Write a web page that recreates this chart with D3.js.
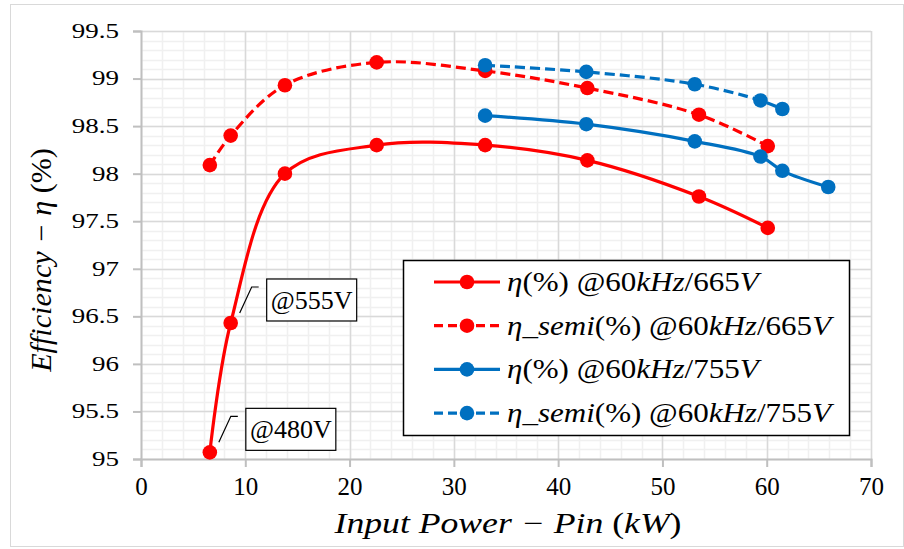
<!DOCTYPE html>
<html>
<head>
<meta charset="utf-8">
<script src="https://cdn.jsdelivr.net/npm/d3@7"></script>
<style>
  html, body { margin: 0; padding: 0; background: #fff; }
  svg { display: block; }
</style>
</head>
<body>
<svg id="chart" width="904" height="549"></svg>
<script>
// ---------- data ----------
const xTicks = [0, 10, 20, 30, 40, 50, 60, 70];
const yTicks = [95, 95.5, 96, 96.5, 97, 97.5, 98, 98.5, 99, 99.5];
const yTickLabels = ["95", "95.5", "96", "96.5", "97", "97.5", "98", "98.5", "99", "99.5"];

const pin665 = [6.6, 8.6, 13.8, 22.6, 33.0, 42.8, 53.5, 60.1];
const eta665 = [95.07, 96.43, 98.00, 98.30, 98.30, 98.14, 97.76, 97.43];
const etaSemi665 = [98.09, 98.40, 98.93, 99.17, 99.08, 98.90, 98.62, 98.29];

const pin755 = [33.0, 42.7, 53.1, 59.4, 61.5, 65.9];
const eta755 = [98.61, 98.52, 98.34, 98.18, 98.03, 97.86];
const pinSemi755 = [33.0, 42.7, 53.1, 59.4, 61.5];
const etaSemi755 = [99.14, 99.07, 98.94, 98.77, 98.68];

const annotations = [
  { label: "@555V", x: 8.6, y: 96.43 },
  { label: "@480V", x: 6.6, y: 95.07 }
];

// ---------- font ----------
const FONT = '"Liberation Serif", "DejaVu Serif", serif';

// ---------- layout ----------
const svg = d3.select("#chart");
const plot = { left: 141, right: 871, top: 31, bottom: 459 };
const x = d3.scaleLinear().domain([0, 70]).range([plot.left, plot.right]);
const y = d3.scaleLinear().domain([95, 99.5]).range([plot.bottom, plot.top]);

const RED = "#ff0000", BLUE = "#0070c0";

// outer chart border
svg.append("rect").attr("x", 10.5).attr("y", 4.5).attr("width", 893).attr("height", 542)
  .attr("fill", "#fff").attr("stroke", "#d9d9d9").attr("stroke-width", 1);

// minor grid
const g = svg.append("g");
const xMinor = d3.range(0, 70.001, 2);
const yMinor = d3.range(95, 99.5001, 0.1);
g.selectAll(".xm").data(xMinor).enter().append("line")
  .attr("x1", d => Math.round(x(d)) + 0.5).attr("x2", d => Math.round(x(d)) + 0.5)
  .attr("y1", plot.top).attr("y2", plot.bottom)
  .attr("stroke", "#f0f0f0").attr("stroke-width", 1.5);
g.selectAll(".ym").data(yMinor).enter().append("line")
  .attr("y1", d => Math.round(y(d)) + 0.5).attr("y2", d => Math.round(y(d)) + 0.5)
  .attr("x1", plot.left).attr("x2", plot.right)
  .attr("stroke", "#f0f0f0").attr("stroke-width", 1.5);
// major grid
g.selectAll(".xM").data(xTicks.slice(1)).enter().append("line")
  .attr("x1", d => Math.round(x(d)) + 0.5).attr("x2", d => Math.round(x(d)) + 0.5)
  .attr("y1", plot.top).attr("y2", plot.bottom)
  .attr("stroke", "#d9d9d9").attr("stroke-width", 1.5);
g.selectAll(".yM").data(yTicks.slice(1)).enter().append("line")
  .attr("y1", d => Math.round(y(d)) + 0.5).attr("y2", d => Math.round(y(d)) + 0.5)
  .attr("x1", plot.left).attr("x2", plot.right)
  .attr("stroke", "#d9d9d9").attr("stroke-width", 1.5);

// axes
const xAxis = d3.axisBottom(x).tickValues(xTicks).tickSize(8).tickPadding(9).tickFormat(d3.format("d"));
const yAxis = d3.axisLeft(y).tickValues(yTicks).tickSize(8).tickPadding(14)
  .tickFormat((d, i) => yTickLabels[i]);

const gx = svg.append("g").attr("transform", `translate(0,${plot.bottom})`).call(xAxis);
const gy = svg.append("g").attr("transform", `translate(${plot.left},0)`).call(yAxis);
[gx, gy].forEach(a => {
  a.attr("font-family", FONT);
  a.select(".domain").attr("stroke", "#bfbfbf").attr("stroke-width", 2);
  a.selectAll(".tick line").attr("stroke", "#bfbfbf").attr("stroke-width", 2);
  a.selectAll(".tick text").attr("fill", "#000");
});
gx.selectAll(".tick text").attr("font-size", 25).attr("dy", "0.75em");
gy.selectAll(".tick text").attr("font-size", 20)
  .attr("text-anchor", "end")
  .each(function () {
    const t = d3.select(this);
    const tx = +t.attr("x");
    t.attr("transform", `translate(${tx},0) scale(1.35,1)`).attr("x", 0);
  });

// series
const curve = d3.curveCatmullRom.alpha(0.5);
const line = d3.line().x(d => x(d[0])).y(d => y(d[1])).curve(curve);
const series = [
  { xs: pin665, ys: eta665, color: RED, dash: null },
  { xs: pin665, ys: etaSemi665, color: RED, dash: "10,5" },
  { xs: pin755, ys: eta755, color: BLUE, dash: null },
  { xs: pinSemi755, ys: etaSemi755, color: BLUE, dash: "10,5" }
];
series.forEach(s => {
  const pts = s.xs.map((v, i) => [v, s.ys[i]]);
  svg.append("path").attr("d", line(pts)).attr("fill", "none")
    .attr("stroke", s.color).attr("stroke-width", 3.2)
    .attr("stroke-dasharray", s.dash);
  svg.append("g").selectAll("circle").data(pts).enter().append("circle")
    .attr("cx", d => x(d[0])).attr("cy", d => y(d[1])).attr("r", 7.3)
    .attr("fill", s.color);
});

// annotations (callouts anchored to data points)
annotations.forEach(a => {
  const px = x(a.x), py = y(a.y);
  const ag = svg.append("g");
  ag.append("path")
    .attr("d", `M${px + 9},${py - 10} L${px + 21},${py - 36} L${px + 28},${py - 36}`)
    .attr("fill", "none").attr("stroke", "#000").attr("stroke-width", 1.2);
  const bx = px + 36, by = py - 44;
  ag.append("rect").attr("x", bx).attr("y", by).attr("width", 90).attr("height", 42)
    .attr("fill", "#fff").attr("stroke", "#000").attr("stroke-width", 1.2);
  ag.append("text").attr("x", bx + 45).attr("y", by + 30).attr("text-anchor", "middle")
    .attr("font-family", FONT).attr("font-size", 26).text(a.label);
});

// legend
const legendItems = [
  { parts: [["η", true], ["(%) @60", false], ["kHz", true], ["/665", false], ["V", true]], color: RED, dash: null },
  { parts: [["η_semi", true], ["(%) @60", false], ["kHz", true], ["/665", false], ["V", true]], color: RED, dash: "9,5" },
  { parts: [["η", true], ["(%) @60", false], ["kHz", true], ["/755", false], ["V", true]], color: BLUE, dash: null },
  { parts: [["η_semi", true], ["(%) @60", false], ["kHz", true], ["/755", false], ["V", true]], color: BLUE, dash: "9,5" }
];
const lg = svg.append("g");
lg.append("rect").attr("x", 403.5).attr("y", 260.5).attr("width", 446).attr("height", 175)
  .attr("fill", "#fff").attr("stroke", "#000").attr("stroke-width", 1.5);
legendItems.forEach((it, i) => {
  const cy = 282 + i * 43.7;
  lg.append("line").attr("x1", 434).attr("x2", 500).attr("y1", cy).attr("y2", cy)
    .attr("stroke", it.color).attr("stroke-width", 3.2).attr("stroke-dasharray", it.dash);
  lg.append("circle").attr("cx", 467).attr("cy", cy).attr("r", 7.3).attr("fill", it.color);
  const t = lg.append("text").attr("transform", `translate(507,${cy + 9}) scale(1.15,1)`)
    .attr("font-size", 27).attr("font-family", FONT);
  it.parts.forEach(p => {
    t.append("tspan").attr("font-style", p[1] ? "italic" : "normal").text(p[0]);
  });
});

// axis titles
const xt = svg.append("text").attr("transform", "translate(508,533) scale(1.23,1)")
  .attr("text-anchor", "middle").attr("font-family", FONT).attr("font-size", 29);
[["Input Power − Pin ", true], ["(", false], ["kW", true], [")", false]].forEach(p => {
  xt.append("tspan").attr("font-style", p[1] ? "italic" : "normal").text(p[0]);
});
const yt = svg.append("text").attr("transform", "translate(51,260) rotate(-90) scale(1.04,1)")
  .attr("text-anchor", "middle").attr("font-family", FONT).attr("font-size", 29);
[["Efficiency − η ", true], ["(%)", false]].forEach(p => {
  yt.append("tspan").attr("font-style", p[1] ? "italic" : "normal").text(p[0]);
});
</script>
</body>
</html>
